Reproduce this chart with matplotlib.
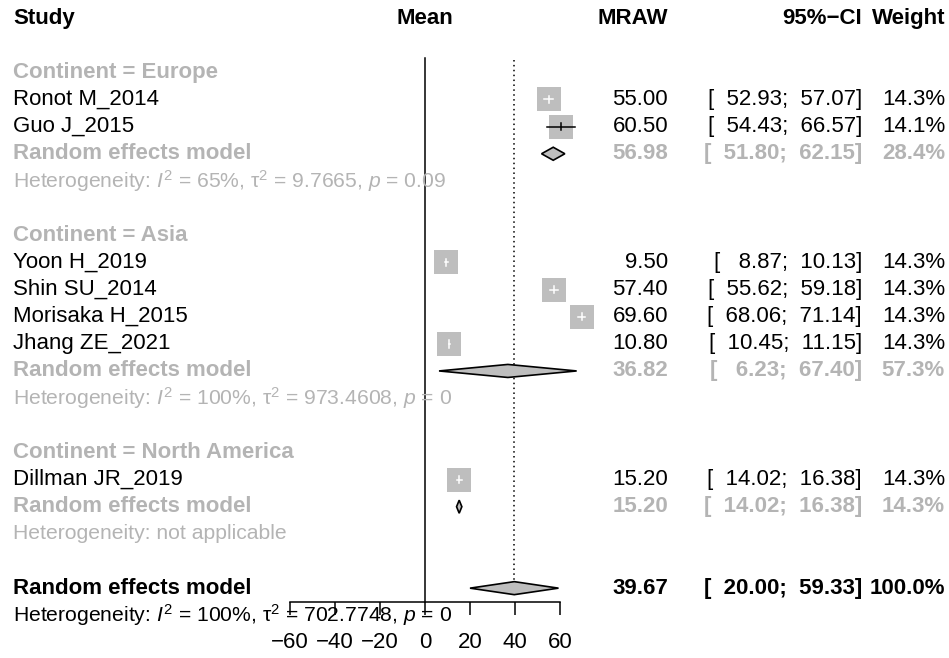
import numpy as np
import matplotlib
matplotlib.use("Agg")
import matplotlib.pyplot as plt
from matplotlib import transforms

plt.rcParams['font.family'] = ['Liberation Sans', 'DejaVu Sans']
plt.rcParams['mathtext.fontset'] = 'custom'
plt.rcParams['mathtext.rm'] = 'Liberation Sans'
plt.rcParams['mathtext.it'] = 'Liberation Sans:italic'
plt.rcParams['mathtext.bf'] = 'Liberation Sans:bold'

# study level data
studies = ["Ronot M_2014", "Guo J_2015", "Yoon H_2019", "Shin SU_2014",
           "Morisaka H_2015", "Jhang ZE_2021", "Dillman JR_2019"]
continent = ["Europe", "Europe", "Asia", "Asia", "Asia", "Asia", "North America"]
mraw = [55.00, 60.50, 9.50, 57.40, 69.60, 10.80, 15.20]
ci_lo = [52.93, 54.43, 8.87, 55.62, 68.06, 10.45, 14.02]
ci_hi = [57.07, 66.57, 10.13, 59.18, 71.14, 11.15, 16.38]
weight = [14.3, 14.1, 14.3, 14.3, 14.3, 14.3, 14.3]

# subgroup random effects
groups = ["Europe", "Asia", "North America"]
grp_mraw = [56.98, 36.82, 15.20]
grp_lo = [51.80, 6.23, 14.02]
grp_hi = [62.15, 67.40, 16.38]
grp_weight = [28.4, 57.3, 14.3]
grp_het = [r"Heterogeneity: $I^2$ = 65%, τ$^2$ = 9.7665, $p$ = 0.09",
           r"Heterogeneity: $I^2$ = 100%, τ$^2$ = 973.4608, $p$ = 0",
           "Heterogeneity: not applicable"]

# overall random effects
all_mraw, all_lo, all_hi, all_weight = 39.67, 20.00, 59.33, 100.0
all_het = r"Heterogeneity: $I^2$ = 100%, τ$^2$ = 702.7748, $p$ = 0"

xticks = [-60, -40, -20, 0, 20, 40, 60]

W, H = 949, 658
GRAY = '#b4b4b4'
SQ = '#bebebe'
FS = 16
FS_HET = 15.2

fig = plt.figure(figsize=(W / 100, H / 100), dpi=100)
fig.patch.set_facecolor('white')
# forest region: x from -60..60 maps to px 290..560, bottom spine at px 602
ax = fig.add_axes([290 / W, (H - 602) / H, 270 / W, 602 / H])
ax.set_xlim(-60, 60)
ax.set_ylim(21.51, -0.663)
for s in ['top', 'right', 'left']:
    ax.spines[s].set_visible(False)
ax.spines['bottom'].set_linewidth(1.1)
ax.set_yticks([])
ax.set_xticks(xticks)
ax.tick_params(axis='x', direction='out', length=9.5, width=1.1, pad=12, labelsize=FS)
ax.patch.set_alpha(0)

tr = transforms.blended_transform_factory(fig.transFigure, ax.transData)
def px(x):
    return x / W

X_STUDY, X_MRAW, X_CI, X_W = 13, 668, 862, 945

def fmt_ci(lo, hi):
    return "[{:7.2f};{:7.2f}]".format(lo, hi)

def row_values(r, m, lo, hi, w, color, bold):
    fw = 'bold' if bold else 'normal'
    ax.text(px(X_MRAW), r, "{:.2f}".format(m), transform=tr, ha='right', va='center',
            fontsize=FS, color=color, fontweight=fw)
    ax.text(px(X_CI), r, fmt_ci(lo, hi), transform=tr, ha='right', va='center',
            fontsize=FS, color=color, fontweight=fw)
    ax.text(px(X_W), r, "{:.1f}%".format(w), transform=tr, ha='right', va='center',
            fontsize=FS, color=color, fontweight=fw)

def diamond(r, m, lo, hi, h=0.24):
    ax.fill([lo, m, hi, m, lo], [r, r - h, r, r + h, r], facecolor=SQ,
            edgecolor='black', linewidth=1.2, clip_on=False, zorder=4)

# header
hy = 0
ax.text(px(X_STUDY), hy, "Study", transform=tr, ha='left', va='center', fontsize=FS, fontweight='bold')
ax.text(0, hy, "Mean", ha='center', va='center', fontsize=FS, fontweight='bold')
ax.text(px(X_MRAW), hy, "MRAW", transform=tr, ha='right', va='center', fontsize=FS, fontweight='bold')
ax.text(px(X_CI), hy, "95%\u2212CI", transform=tr, ha='right', va='center', fontsize=FS, fontweight='bold')
ax.text(px(X_W), hy, "Weight", transform=tr, ha='right', va='center', fontsize=FS, fontweight='bold')

half_sq = 11.5 / 2.25  # half square width in data units
row = 2
for g, gname in enumerate(groups):
    ax.text(px(X_STUDY), row, "Continent = " + gname, transform=tr, ha='left', va='center',
            fontsize=FS, color=GRAY, fontweight='bold')
    row += 1
    for i in range(len(studies)):
        if continent[i] != gname:
            continue
        ax.text(px(X_STUDY), row, studies[i], transform=tr, ha='left', va='center', fontsize=FS)
        ax.scatter([mraw[i]], [row], s=285 * weight[i] / 14.3, marker='s', color=SQ,
                   linewidths=0, clip_on=False, zorder=3)
        inside = (ci_lo[i] >= mraw[i] - half_sq) and (ci_hi[i] <= mraw[i] + half_sq)
        lc = 'white' if inside else 'black'
        ax.plot([ci_lo[i], ci_hi[i]], [row, row], color=lc, lw=1.1, clip_on=False, zorder=4)
        ax.plot([mraw[i], mraw[i]], [row - 0.14, row + 0.14], color=lc, lw=1.1, clip_on=False, zorder=4)
        row_values(row, mraw[i], ci_lo[i], ci_hi[i], weight[i], 'black', False)
        row += 1
    ax.text(px(X_STUDY), row, "Random effects model", transform=tr, ha='left', va='center',
            fontsize=FS, color=GRAY, fontweight='bold')
    diamond(row, grp_mraw[g], grp_lo[g], grp_hi[g])
    row_values(row, grp_mraw[g], grp_lo[g], grp_hi[g], grp_weight[g], GRAY, True)
    row += 1
    ax.text(px(X_STUDY), row, grp_het[g], transform=tr, ha='left', va='center',
            fontsize=FS_HET, color=GRAY)
    row += 2

ax.text(px(X_STUDY), row, "Random effects model", transform=tr, ha='left', va='center',
        fontsize=FS, fontweight='bold')
diamond(row, all_mraw, all_lo, all_hi)
row_values(row, all_mraw, all_lo, all_hi, all_weight, 'black', True)
ax.text(px(X_STUDY), row + 1, all_het, transform=tr, ha='left', va='center', fontsize=FS_HET)

# reference lines
ax.plot([0, 0], [1.47, 21.51], color='black', lw=1.1, clip_on=False, zorder=2)
ax.plot([all_mraw, all_mraw], [1.55, row - 0.24], color='black', lw=1.1,
        linestyle=(0, (1, 2.2)), clip_on=False, zorder=2)

fig.savefig("out.png", dpi=100, facecolor='white')
